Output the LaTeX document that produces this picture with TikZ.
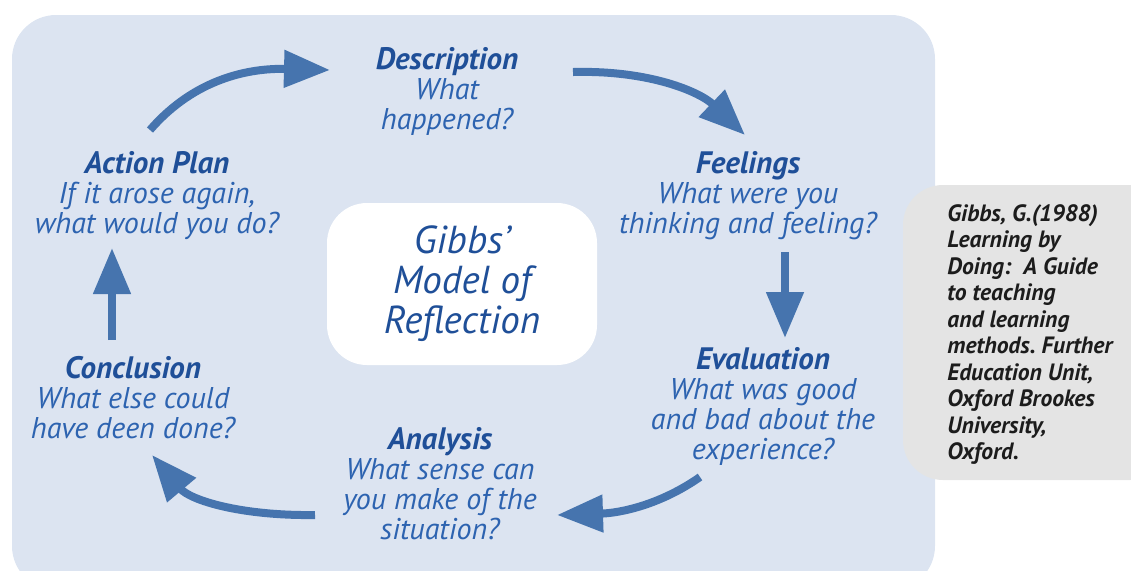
\documentclass[tikz,border=0pt]{standalone}
\usepackage{fontspec}
\setmainfont{PT Sans}
\usetikzlibrary{arrows.meta, positioning}
\definecolor{bgblue}{HTML}{DCE4F1}
\definecolor{arrowblue}{HTML}{4674AE}
\definecolor{titleblue}{HTML}{1F4F98}
\definecolor{textblue}{HTML}{2D63B0}
\definecolor{citegray}{HTML}{E4E4E4}
\definecolor{citetext}{HTML}{1C1C1C}

\tikzset{
  stage/.style={align=center, text=textblue, font=\itshape\fontsize{15}{15}\selectfont, inner sep=0pt},
  cyclearrow/.style={line width=4pt, arrowblue, -{Triangle[length=23pt, width=18pt]}},
}
\newcommand{\stagetitle}[1]{{\bfseries\fontsize{15.5}{15}\selectfont\color{titleblue}#1}}
\frenchspacing

\begin{document}
\begin{tikzpicture}[x=0.5pt, y=-0.5pt]
    \useasboundingbox (0,0) rectangle (1131,570);
    \clip (0,0) rectangle (1131,570);

    % Background panels
    \fill[bgblue, rounded corners=22pt] (12,15) rectangle (935,590);
    \fill[citegray, rounded corners=20pt] (903,185) rectangle (1170,480);

    % Centre box
    \node[fill=white, rounded corners=20pt, minimum width=135pt, minimum height=81pt, align=center, text=titleblue, font=\itshape\fontsize{19.5}{20}\selectfont] (model) at (462,284) {Gibbs'\\Model of\\Reflection};

    % Stages of the cycle
    \node[stage] (desc) at (447,91) {\stagetitle{Description}\\What\\happened?};
    \node[stage] (feel) at (748,196) {\stagetitle{Feelings}\\What were you\\thinking and feeling?};
    \node[stage] (eval) at (763,406) {\stagetitle{Evaluation}\\What was good\\and bad about the\\experience?};
    \node[stage] (anal) at (440,484) {\stagetitle{Analysis}\\What sense can\\you make of the\\situation?};
    \node[stage] (concl) at (133,398) {\stagetitle{Conclusion}\\What else could\\have deen done?};
    \node[stage] (plan) at (157,196) {\stagetitle{Action Plan}\\If it arose again,\\what would you do?};

    % Reference
    \node[anchor=north west, align=left, inner sep=0pt, text=citetext, font=\bfseries\itshape\fontsize{11.8}{13.25}\selectfont] (ref) at (947,204) {Gibbs, G.(1988)\\Learning by\\Doing:~ A Guide\\to teaching\\and learning\\methods. Further\\Education Unit,\\Oxford Brookes\\University,\\Oxford.};

    % Arrow ends
    \coordinate (plan-out) at (150,130);
    \coordinate (desc-in) at (330,70);
    \coordinate (desc-out) at (573,72);
    \coordinate (feel-in) at (745,135);
    \coordinate (feel-out) at (785,252);
    \coordinate (eval-in) at (785,338);
    \coordinate (eval-out) at (700,477);
    \coordinate (anal-in) at (557,515);
    \coordinate (anal-out) at (315,515);
    \coordinate (concl-in) at (152,455);
    \coordinate (concl-out) at (112,340);
    \coordinate (plan-in) at (112,248);

    % Cycle arrows
    \draw[cyclearrow] (plan-out) .. controls (195,78) and (250,68) .. (desc-in);
    \draw[cyclearrow] (desc-out) .. controls (650,70) and (700,92) .. (feel-in);
    \draw[cyclearrow] (feel-out) -- (eval-in);
    \draw[cyclearrow] (eval-out) .. controls (660,505) and (620,513) .. (anal-in);
    \draw[cyclearrow] (anal-out) .. controls (240,516) and (190,500) .. (concl-in);
    \draw[cyclearrow] (concl-out) -- (plan-in);
\end{tikzpicture}
\end{document}
